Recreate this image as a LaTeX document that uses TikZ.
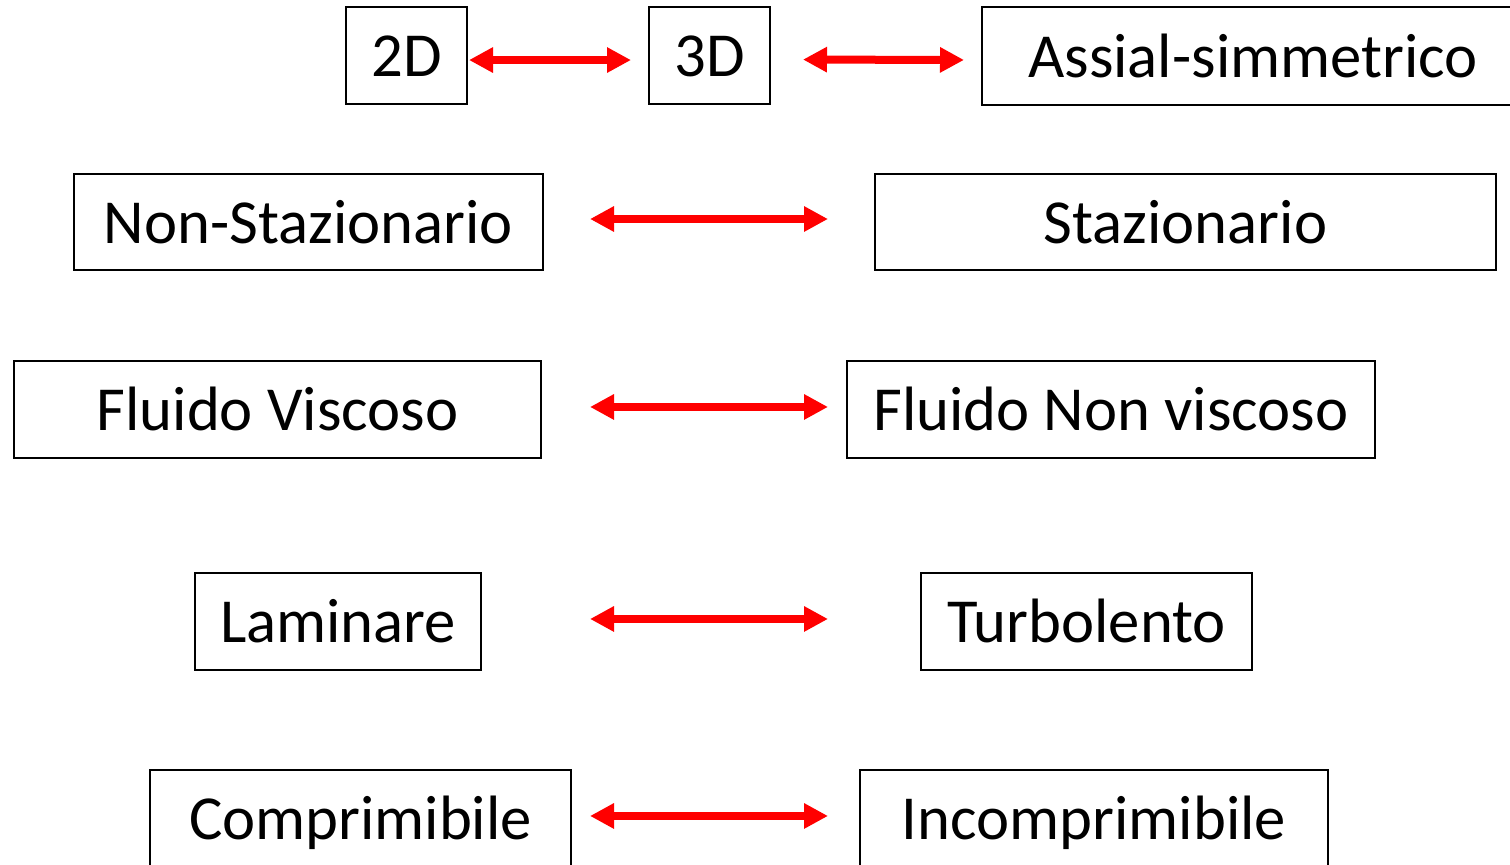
\documentclass[tikz,border=0pt]{standalone}
\usepackage{fontspec}
\setmainfont{Carlito}
\usetikzlibrary{arrows.meta}
\begin{document}
\begin{tikzpicture}[x=0.75pt,y=-0.75pt,
  term/.style={draw, line width=1.5pt, inner sep=0pt, text height=31.5pt, text depth=0pt,
    font=\fontsize{47}{56}\selectfont},
  link/.style={red, line width=6pt,
    {Triangle[length=18pt,width=18pt]}-{Triangle[length=18pt,width=18pt]}}]
  \useasboundingbox (0,0) rectangle (1510,864);
  \clip (0,0) rectangle (1510,864);

  % row 1: dimensionality
  \node[term, minimum width=121*0.75pt, minimum height=97*0.75pt] (d2) at (406.5,55.5) {2D};
  \node[term, minimum width=121*0.75pt, minimum height=97*0.75pt] (d3) at (709.5,55.5) {3D};
  \node[term, minimum width=542*0.75pt, minimum height=98*0.75pt] (ax) at (1253,56) {Assial-simmetrico};
  % row 2
  \node[term, minimum width=469*0.75pt, minimum height=96*0.75pt] (ns) at (308.5,222) {Non-Stazionario};
  \node[term, minimum width=621*0.75pt, minimum height=96*0.75pt] (st) at (1185.5,222) {Stazionario};
  % row 3
  \node[term, minimum width=527*0.75pt, minimum height=97*0.75pt] (fv) at (277.5,409.5) {Fluido Viscoso};
  \node[term, minimum width=528*0.75pt, minimum height=97*0.75pt] (fn) at (1111,409.5) {Fluido Non viscoso};
  % row 4
  \node[term, minimum width=286*0.75pt, minimum height=97*0.75pt] (lam) at (338,621.5) {Laminare};
  \node[term, minimum width=331*0.75pt, minimum height=97*0.75pt] (tur) at (1086.5,621.5) {Turbolento};
  % row 5
  \node[term, minimum width=421*0.75pt, minimum height=97*0.75pt] (cmp) at (360.5,818.5) {Comprimibile};
  \node[term, minimum width=468*0.75pt, minimum height=97*0.75pt] (inc) at (1094,818.5) {Incomprimibile};

  % double-headed links
  \draw[link, shorten <=0.75pt, shorten >=12.75pt] ([yshift=-3.4pt]d2.east) -- ([yshift=-3.4pt]d3.west);
  \draw[link, shorten <=24pt, shorten >=12.75pt] ([yshift=-3pt]d3.east) -- ([yshift=-3pt]ax.west);
  \draw[link, shorten <=34.5pt, shorten >=34.5pt] ([yshift=2.25pt]ns.east) -- ([yshift=2.25pt]st.west);
  \draw[link, shorten <=36pt, shorten >=13.5pt] ([yshift=1.9pt]fv.east) -- ([yshift=1.9pt]fn.west);
  \draw[link, shorten <=81pt, shorten >=69pt] ([yshift=1.9pt]lam.east) -- ([yshift=1.9pt]tur.west);
  \draw[link, shorten <=13.5pt, shorten >=23.25pt] ([yshift=1.9pt]cmp.east) -- ([yshift=1.9pt]inc.west);
\end{tikzpicture}
\end{document}
